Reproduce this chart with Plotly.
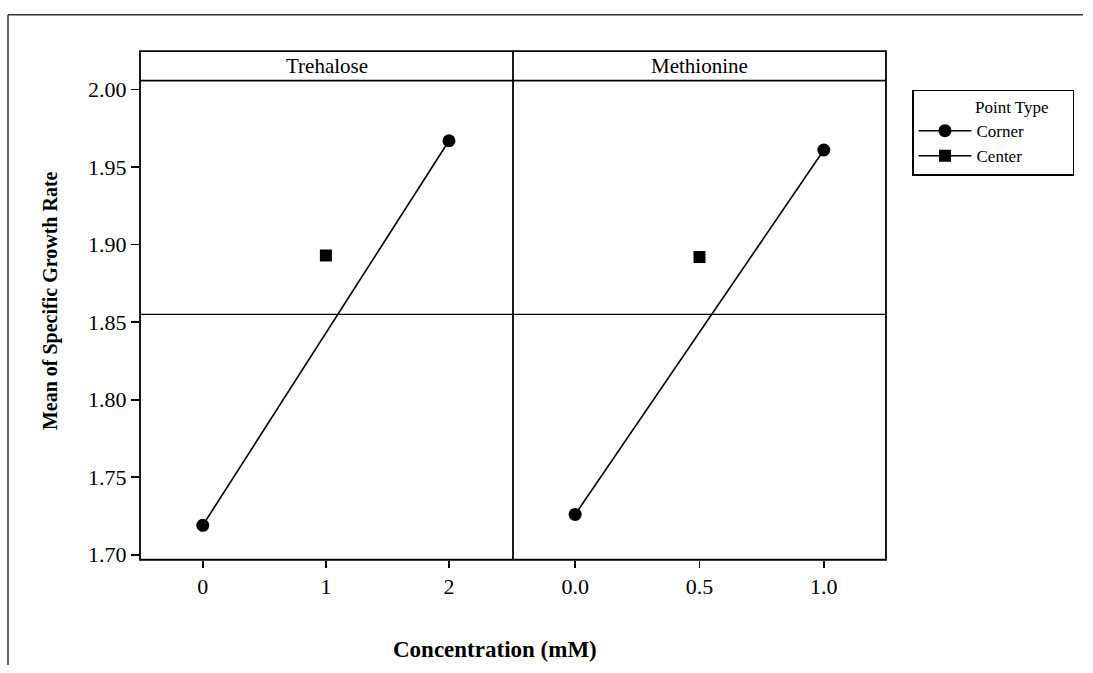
import plotly.graph_objects as go

# ---------------- data ----------------
y_tick_vals = [1.70, 1.75, 1.80, 1.85, 1.90, 1.95, 2.00]
y_tick_text = ["1.70", "1.75", "1.80", "1.85", "1.90", "1.95", "2.00"]

tre_tick_vals = [0, 1, 2]
tre_tick_text = ["0", "1", "2"]
tre_corner_x = [0, 2]
tre_corner_y = [1.719, 1.967]
tre_center_x = [1]
tre_center_y = [1.893]

met_tick_vals = [0.0, 0.5, 1.0]
met_tick_text = ["0.0", "0.5", "1.0"]
met_corner_x = [0.0, 1.0]
met_corner_y = [1.726, 1.961]
met_center_x = [0.5]
met_center_y = [1.892]

grand_mean = 1.855

panel_titles = ["Trehalose", "Methionine"]
x_title = "Concentration (mM)"
y_title = "Mean of Specific Growth Rate"
legend_title = "Point Type"

# ---------------- layout helpers ----------------
W, H = 1093, 673
def fx(p):
    return p / W
def fy(p):
    return 1 - p / H

L, D, R = fx(140), fx(513), fx(886)
B, SB, ST = fy(566), fy(79), fy(49)

FONT = "Liberation Serif"
LW = 1.8

fig = go.Figure()

fig.add_trace(go.Scatter(
    x=tre_corner_x, y=tre_corner_y, mode="lines+markers", name="Corner",
    line=dict(color="black", width=1.6),
    marker=dict(symbol="circle", size=13, color="black"),
    xaxis="x", yaxis="y", legendgroup="corner"))
fig.add_trace(go.Scatter(
    x=tre_center_x, y=tre_center_y, mode="lines+markers", name="Center",
    line=dict(color="black", width=1.6),
    marker=dict(symbol="square", size=12, color="black"),
    xaxis="x", yaxis="y", legendgroup="center"))
fig.add_trace(go.Scatter(
    x=met_corner_x, y=met_corner_y, mode="lines+markers", name="Corner",
    line=dict(color="black", width=1.6),
    marker=dict(symbol="circle", size=13, color="black"),
    xaxis="x2", yaxis="y2", legendgroup="corner", showlegend=False))
fig.add_trace(go.Scatter(
    x=met_center_x, y=met_center_y, mode="lines+markers", name="Center",
    line=dict(color="black", width=1.6),
    marker=dict(symbol="square", size=12, color="black"),
    xaxis="x2", yaxis="y2", legendgroup="center", showlegend=False))

tick_font = dict(family=FONT, size=22, color="black")
common_x = dict(showgrid=False, zeroline=False, showline=False, ticks="outside",
                ticklen=7, tickwidth=1.6, tickcolor="black", tickfont=tick_font,
                fixedrange=True)

shapes = [
    # panel frame (plot + strip)
    dict(type="rect", xref="paper", yref="paper", x0=L, x1=R, y0=B, y1=ST,
         line=dict(color="black", width=LW), layer="above"),
    # strip bottom
    dict(type="line", xref="paper", yref="paper", x0=L, x1=R, y0=SB, y1=SB,
         line=dict(color="black", width=LW)),
    # divider
    dict(type="line", xref="paper", yref="paper", x0=D, x1=D, y0=B, y1=ST,
         line=dict(color="black", width=LW)),
    # grand mean reference line
    dict(type="line", xref="paper", yref="y", x0=L, x1=R, y0=grand_mean, y1=grand_mean,
         line=dict(color="black", width=1.4), layer="below"),
    # outer frame (left and top)
    dict(type="line", xref="paper", yref="paper", x0=fx(8), x1=fx(1083), y0=fy(12), y1=fy(12),
         line=dict(color="#333333", width=1.5)),
    dict(type="line", xref="paper", yref="paper", x0=fx(8), x1=fx(8), y0=0, y1=fy(12),
         line=dict(color="#333333", width=1.5)),
]

annotations = [
    dict(text=panel_titles[0], xref="paper", yref="paper", x=(L + D) / 2, y=(SB + ST) / 2,
         showarrow=False, font=dict(family=FONT, size=21, color="black"),
         xanchor="center", yanchor="middle"),
    dict(text=panel_titles[1], xref="paper", yref="paper", x=(D + R) / 2, y=(SB + ST) / 2,
         showarrow=False, font=dict(family=FONT, size=21, color="black"),
         xanchor="center", yanchor="middle"),
    dict(text="<b>" + x_title + "</b>", xref="paper", yref="paper", x=fx(495), y=fy(657),
         showarrow=False, font=dict(family=FONT, size=23, color="black"),
         xanchor="center", yanchor="middle"),
    dict(text="<b>" + y_title + "</b>", xref="paper", yref="paper", x=fx(50), y=fy(303),
         showarrow=False, textangle=-90, font=dict(family=FONT, size=20, color="black"),
         xanchor="center", yanchor="middle"),
]

nb = "\u00a0"
fig.update_layout(
    width=W, height=H,
    margin=dict(l=0, r=0, t=0, b=0),
    paper_bgcolor="white", plot_bgcolor="white",
    font=dict(family=FONT, color="black"),
    xaxis=dict(domain=[L, D], range=[-0.51, 2.52], tickvals=tre_tick_vals,
               ticktext=tre_tick_text, anchor="y", **common_x),
    xaxis2=dict(domain=[D, R], range=[-0.25, 1.25], tickvals=met_tick_vals,
                ticktext=met_tick_text, anchor="y2", **common_x),
    yaxis=dict(domain=[B, SB], range=[1.6968, 2.0057], tickvals=y_tick_vals,
               ticktext=y_tick_text, anchor="x", showgrid=False, zeroline=False,
               showline=False, ticks="outside", ticklen=8, tickwidth=1.6,
               tickcolor="black", tickfont=tick_font, fixedrange=True),
    yaxis2=dict(domain=[B, SB], matches="y", anchor="x2", showgrid=False,
                zeroline=False, showline=False, showticklabels=False, ticks="",
                fixedrange=True),
    showlegend=True,
    legend=dict(x=fx(912), y=fy(88), xanchor="left", yanchor="top",
                bordercolor="black", borderwidth=1.5, bgcolor="white",
                font=dict(family=FONT, size=17, color="black"),
                itemwidth=53, tracegroupgap=0,
                title=dict(text=nb * 14 + legend_title + nb * 5, side="top",
                           font=dict(family=FONT, size=17, color="black"))),
    shapes=shapes,
    annotations=annotations,
)

fig.write_html("out.html",
               config={"displayModeBar": False, "staticPlot": True},
               post_script="document.body.style.margin='0';document.body.style.overflow='hidden';")
